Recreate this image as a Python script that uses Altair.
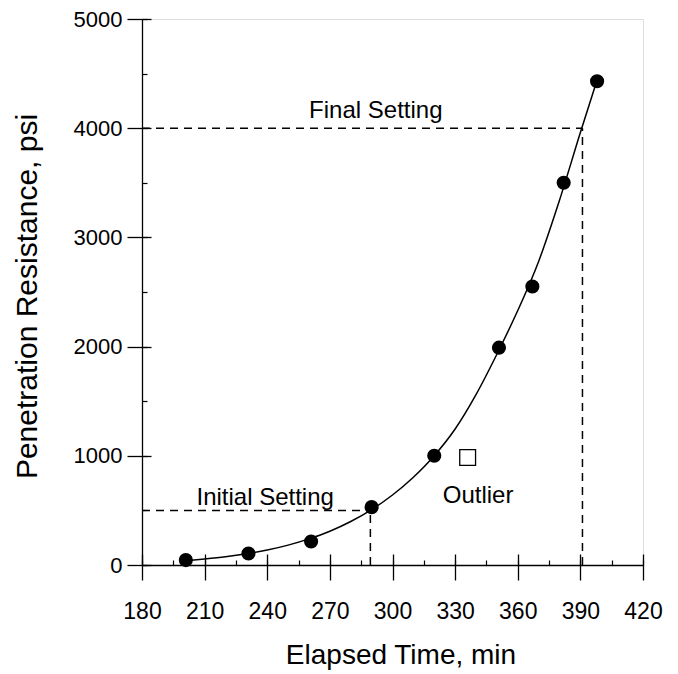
import altair as alt
import pandas as pd

# Measured points
time_pts = [201, 231, 261, 290, 320, 351, 367, 382, 398]
resist_pts = [45, 105, 215, 530, 1000, 1990, 2550, 3500, 4430]

# Outlier
outlier_t = [336]
outlier_r = [985]

# Fitted curve
curve_t = [201, 210, 220, 230, 240, 250, 260, 270, 280, 290, 300, 310, 320,
           330, 340, 350, 360, 370, 380, 390, 398]
curve_r = [40, 55, 75, 102, 137, 182, 239, 309, 398, 507, 641, 804, 1001,
           1245, 1560, 1930, 2330, 2780, 3340, 3960, 4440]

# Setting guide lines
guide_x = [180, 391, 180, 289.4]
guide_y = [4000, 0, 500, 0]
guide_x2 = [391, 391, 289.4, 289.4]
guide_y2 = [4000, 4000, 500, 500]

# Annotations
ann_text = ["Final Setting", "Initial Setting", "Outlier"]
ann_x = [292, 239, 341]
ann_y = [4090, 545, 565]

x_major = list(range(180, 421, 30))
x_minor = list(range(180, 421, 15))
y_major = list(range(0, 5001, 1000))
y_minor = list(range(0, 5001, 500))

FONT = "Liberation Sans"
W, H = 501, 546

pts = pd.DataFrame({"t": time_pts, "r": resist_pts})
out = pd.DataFrame({"t": outlier_t, "r": outlier_r})
curve = pd.DataFrame({"t": curve_t, "r": curve_r})
guides = pd.DataFrame({"x": guide_x, "y": guide_y, "x2": guide_x2, "y2": guide_y2})
ann = pd.DataFrame({"text": ann_text, "t": ann_x, "r": ann_y})

xs = alt.Scale(domain=[180, 420], nice=False, zero=False)
ys = alt.Scale(domain=[0, 5000], nice=False)

x_main_axis = alt.Axis(
    values=x_major, format="d", labelFlush=False, tickSize=15, labelPadding=20,
    labelFontSize=23, labelFont=FONT,
    labelColor="black", tickColor="black", domainColor="black", grid=False,
    title="Elapsed Time, min", titleFont=FONT, titleFontSize=28, titleFontWeight="normal",
    titleColor="black", titleX=W / 2 + 8, titleY=98, titleBaseline="alphabetic",
    titleAlign="center", orient="bottom", domainWidth=1.3, tickWidth=1.3,
)
y_main_axis = alt.Axis(
    values=y_major, format="d", labelFlush=False, tickSize=15, labelPadding=5,
    labelFontSize=22, labelFont=FONT,
    labelColor="black", tickColor="black", domainColor="black", grid=False,
    title="Penetration Resistance, psi", titleFont=FONT, titleFontSize=30,
    titleFontWeight="normal", titleColor="black", titleAngle=-90, titleX=-106,
    titleY=277, titleBaseline="alphabetic", titleAlign="center", orient="left",
    domainWidth=1.3, tickWidth=1.3,
)
x_in_major = alt.Axis(values=x_major, tickSize=11, labels=False, domain=False, grid=False,
                      title=None, orient="bottom", offset=-11, tickColor="black", tickWidth=1.3)
y_in_major = alt.Axis(values=y_major, tickSize=9, labels=False, domain=False, grid=False,
                      title=None, orient="left", offset=-9, tickColor="black", tickWidth=1.3)
x_in_minor = alt.Axis(values=x_minor, tickSize=5, labels=False, domain=False, grid=False,
                      title=None, orient="bottom", offset=-5, tickColor="black", tickWidth=1.2)
y_in_minor = alt.Axis(values=y_minor, tickSize=5, labels=False, domain=False, grid=False,
                      title=None, orient="left", offset=-5, tickColor="black", tickWidth=1.2)

points = alt.Chart(pts).mark_point(filled=True, color="black", size=200, opacity=1).encode(
    x=alt.X("t:Q", scale=xs, axis=x_main_axis),
    y=alt.Y("r:Q", scale=ys, axis=y_main_axis),
)

line = alt.Chart(curve).mark_line(color="black", strokeWidth=1.5, interpolate="monotone").encode(
    x=alt.X("t:Q", scale=xs, axis=x_in_major),
    y=alt.Y("r:Q", scale=ys, axis=y_in_major),
)

dashes = alt.Chart(guides).mark_rule(color="black", strokeWidth=1.5, strokeDash=[8, 6]).encode(
    x=alt.X("x:Q", scale=xs, axis=x_in_minor),
    y=alt.Y("y:Q", scale=ys, axis=y_in_minor),
    x2="x2:Q",
    y2="y2:Q",
)

outlier = alt.Chart(out).mark_point(shape="square", filled=False, color="black",
                                    size=250, strokeWidth=1.3, opacity=1).encode(
    x=alt.X("t:Q", scale=xs, axis=None),
    y=alt.Y("r:Q", scale=ys, axis=None),
)

labels = alt.Chart(ann).mark_text(font=FONT, fontSize=24, color="black", align="center",
                                  baseline="alphabetic").encode(
    x=alt.X("t:Q", scale=xs, axis=None),
    y=alt.Y("r:Q", scale=ys, axis=None),
    text="text:N",
)

chart = alt.layer(dashes, line, points, outlier, labels).resolve_axis(
    x="independent", y="independent"
).properties(
    width=W, height=H,
    padding={"left": 134, "top": 11, "right": 20, "bottom": 105},
    autosize=alt.AutoSizeParams(type="none"),
).configure_view(stroke="black", strokeWidth=1.3).configure(background="white")

chart.save("out.html", embed_options={"renderer": "svg", "actions": False})
